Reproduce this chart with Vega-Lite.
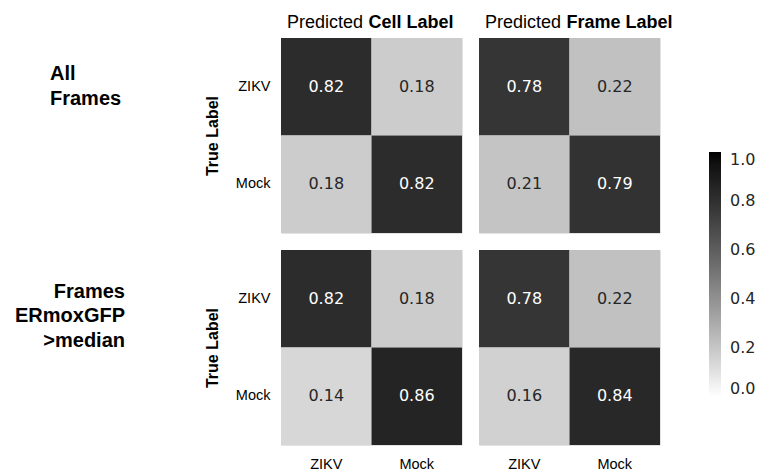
{
  "$schema": "https://vega.github.io/schema/vega-lite/v6.json",
  "padding": {"left": 0, "top": 12, "right": 0, "bottom": 0},
  "background": "white",
  "config": {
    "view": {"stroke": "#e3e3e3"},
    "font": "Liberation Sans",
    "axis": {"labelFont": "Liberation Sans", "titleFont": "Liberation Sans", "labelColor": "#000", "titleColor": "#000"}
  },
  "datasets": {
    "cm": [
      {"group": "all", "pred": "Cell", "truth": "ZIKV", "predicted": "ZIKV", "value": 0.82},
      {"group": "all", "pred": "Cell", "truth": "ZIKV", "predicted": "Mock", "value": 0.18},
      {"group": "all", "pred": "Cell", "truth": "Mock", "predicted": "ZIKV", "value": 0.18},
      {"group": "all", "pred": "Cell", "truth": "Mock", "predicted": "Mock", "value": 0.82},
      {"group": "all", "pred": "Frame", "truth": "ZIKV", "predicted": "ZIKV", "value": 0.78},
      {"group": "all", "pred": "Frame", "truth": "ZIKV", "predicted": "Mock", "value": 0.22},
      {"group": "all", "pred": "Frame", "truth": "Mock", "predicted": "ZIKV", "value": 0.21},
      {"group": "all", "pred": "Frame", "truth": "Mock", "predicted": "Mock", "value": 0.79},
      {"group": "high", "pred": "Cell", "truth": "ZIKV", "predicted": "ZIKV", "value": 0.82},
      {"group": "high", "pred": "Cell", "truth": "ZIKV", "predicted": "Mock", "value": 0.18},
      {"group": "high", "pred": "Cell", "truth": "Mock", "predicted": "ZIKV", "value": 0.14},
      {"group": "high", "pred": "Cell", "truth": "Mock", "predicted": "Mock", "value": 0.86},
      {"group": "high", "pred": "Frame", "truth": "ZIKV", "predicted": "ZIKV", "value": 0.78},
      {"group": "high", "pred": "Frame", "truth": "ZIKV", "predicted": "Mock", "value": 0.22},
      {"group": "high", "pred": "Frame", "truth": "Mock", "predicted": "ZIKV", "value": 0.16},
      {"group": "high", "pred": "Frame", "truth": "Mock", "predicted": "Mock", "value": 0.84}
    ],
    "rows": [
      {"group": "all", "label": "All\nFrames"},
      {"group": "high", "label": "Frames\nERmoxGFP\n>median"}
    ]
  },
  "vconcat": [
    {
      "spacing": 53,
      "hconcat": [
        {
          "width": 150, "height": 195,
          "view": {"stroke": null},
          "data": {"name": "rows"},
          "transform": [{"filter": "datum.group === 'all'"}],
          "mark": {"type": "text", "align": "left", "baseline": "middle", "lineBreak": "\n", "font": "Liberation Sans", "fontSize": 20, "fontWeight": "bold", "lineHeight": 25, "color": "#000", "dx": -25, "dy": -62},
          "encoding": {"text": {"field": "label", "type": "nominal"}}
        },
        {
          "spacing": 15,
          "hconcat": [
            {
              "width": 181, "height": 195,
              "data": {"name": "cm"},
              "transform": [{"filter": "datum.group === 'all' && datum.pred === 'Cell'"}],
              "title": {"text": "Predicted", "anchor": "start", "frame": "group", "dx": 6, "dy": 33, "offset": 0, "baseline": "alphabetic", "fontSize": 18, "fontWeight": "normal", "font": "Liberation Sans", "color": "#000"},
              "encoding": {
                "x": {"field": "predicted", "type": "nominal", "sort": ["ZIKV", "Mock"], "scale": {"paddingInner": 0, "paddingOuter": 0},
                  "axis": {"orient": "top", "labels": false, "ticks": false, "domain": false, "title": "Cell Label", "titleFontWeight": "bold", "titleFontSize": 18, "titleX": 87, "titleY": -11, "titleAlign": "left", "titleBaseline": "alphabetic", "titleAnchor": "start"}},
                "y": {"field": "truth", "type": "nominal", "sort": ["ZIKV", "Mock"], "scale": {"paddingInner": 0, "paddingOuter": 0},
                  "axis": {"labelAngle": 0, "labelFontSize": 14.5, "labelPadding": 11, "ticks": false, "domain": false, "title": "True Label", "titleFontWeight": "bold", "titleFontSize": 16, "titlePadding": 15}}
              },
              "layer": [
                {"mark": {"type": "rect"}, "encoding": {"color": {"field": "value", "type": "quantitative", "scale": {"domain": [0, 1], "range": ["#ffffff", "#000000"]},
                  "legend": {"orient": "none", "legendX": 709, "legendY": 114, "title": null, "padding": 0, "direction": "vertical", "gradientLength": 245, "gradientThickness": 12, "gradientStrokeWidth": 0, "values": [0, 0.2, 0.4, 0.6, 0.8, 1], "format": ".1f", "labelFont": "DejaVu Sans", "labelFontSize": 16, "labelColor": "#262626", "labelOffset": 9}}}},
                {"mark": {"type": "text", "font": "DejaVu Sans", "fontSize": 16}, "encoding": {"text": {"field": "value", "type": "quantitative", "format": ".2f"}, "color": {"condition": {"test": "datum.value > 0.5", "value": "#ffffff"}, "value": "#262626"}}}
              ]
            },
            {
              "width": 181, "height": 195,
              "data": {"name": "cm"},
              "transform": [{"filter": "datum.group === 'all' && datum.pred === 'Frame'"}],
              "title": {"text": "Predicted", "anchor": "start", "frame": "group", "dx": 6, "dy": 33, "offset": 0, "baseline": "alphabetic", "fontSize": 18, "fontWeight": "normal", "font": "Liberation Sans", "color": "#000"},
              "encoding": {
                "x": {"field": "predicted", "type": "nominal", "sort": ["ZIKV", "Mock"], "scale": {"paddingInner": 0, "paddingOuter": 0},
                  "axis": {"orient": "top", "labels": false, "ticks": false, "domain": false, "title": "Frame Label", "titleFontWeight": "bold", "titleFontSize": 18, "titleX": 87, "titleY": -11, "titleAlign": "left", "titleBaseline": "alphabetic", "titleAnchor": "start"}},
                "y": {"field": "truth", "type": "nominal", "sort": ["ZIKV", "Mock"], "scale": {"paddingInner": 0, "paddingOuter": 0}, "axis": null}
              },
              "layer": [
                {"mark": {"type": "rect"}, "encoding": {"color": {"field": "value", "type": "quantitative", "scale": {"domain": [0, 1], "range": ["#ffffff", "#000000"]},
                  "legend": {"orient": "none", "legendX": 709, "legendY": 114, "title": null, "padding": 0, "direction": "vertical", "gradientLength": 245, "gradientThickness": 12, "gradientStrokeWidth": 0, "values": [0, 0.2, 0.4, 0.6, 0.8, 1], "format": ".1f", "labelFont": "DejaVu Sans", "labelFontSize": 16, "labelColor": "#262626", "labelOffset": 9}}}},
                {"mark": {"type": "text", "font": "DejaVu Sans", "fontSize": 16}, "encoding": {"text": {"field": "value", "type": "quantitative", "format": ".2f"}, "color": {"condition": {"test": "datum.value > 0.5", "value": "#ffffff"}, "value": "#262626"}}}
              ]
            }
          ]
        }
      ]
    },
    {
      "spacing": 53,
      "hconcat": [
        {
          "width": 150, "height": 195,
          "view": {"stroke": null},
          "data": {"name": "rows"},
          "transform": [{"filter": "datum.group === 'high'"}],
          "mark": {"type": "text", "align": "right", "baseline": "middle", "lineBreak": "\n", "font": "Liberation Sans", "fontSize": 20, "fontWeight": "bold", "lineHeight": 24.5, "color": "#000", "dx": 50, "dy": -56},
          "encoding": {"text": {"field": "label", "type": "nominal"}}
        },
        {
          "spacing": 15,
          "hconcat": [
            {
              "width": 181, "height": 195,
              "data": {"name": "cm"},
              "transform": [{"filter": "datum.group === 'high' && datum.pred === 'Cell'"}],
              "encoding": {
                "x": {"field": "predicted", "type": "nominal", "sort": ["ZIKV", "Mock"], "scale": {"paddingInner": 0, "paddingOuter": 0},
                  "axis": {"orient": "bottom", "labelAngle": 0, "labelFontSize": 14.5, "labelPadding": 12, "ticks": false, "domain": false, "title": null}},
                "y": {"field": "truth", "type": "nominal", "sort": ["ZIKV", "Mock"], "scale": {"paddingInner": 0, "paddingOuter": 0},
                  "axis": {"labelAngle": 0, "labelFontSize": 14.5, "labelPadding": 11, "ticks": false, "domain": false, "title": "True Label", "titleFontWeight": "bold", "titleFontSize": 16, "titlePadding": 15}}
              },
              "layer": [
                {"mark": {"type": "rect"}, "encoding": {"color": {"field": "value", "type": "quantitative", "scale": {"domain": [0, 1], "range": ["#ffffff", "#000000"]},
                  "legend": {"orient": "none", "legendX": 709, "legendY": 114, "title": null, "padding": 0, "direction": "vertical", "gradientLength": 245, "gradientThickness": 12, "gradientStrokeWidth": 0, "values": [0, 0.2, 0.4, 0.6, 0.8, 1], "format": ".1f", "labelFont": "DejaVu Sans", "labelFontSize": 16, "labelColor": "#262626", "labelOffset": 9}}}},
                {"mark": {"type": "text", "font": "DejaVu Sans", "fontSize": 16}, "encoding": {"text": {"field": "value", "type": "quantitative", "format": ".2f"}, "color": {"condition": {"test": "datum.value > 0.5", "value": "#ffffff"}, "value": "#262626"}}}
              ]
            },
            {
              "width": 181, "height": 195,
              "data": {"name": "cm"},
              "transform": [{"filter": "datum.group === 'high' && datum.pred === 'Frame'"}],
              "encoding": {
                "x": {"field": "predicted", "type": "nominal", "sort": ["ZIKV", "Mock"], "scale": {"paddingInner": 0, "paddingOuter": 0},
                  "axis": {"orient": "bottom", "labelAngle": 0, "labelFontSize": 14.5, "labelPadding": 12, "ticks": false, "domain": false, "title": null}},
                "y": {"field": "truth", "type": "nominal", "sort": ["ZIKV", "Mock"], "scale": {"paddingInner": 0, "paddingOuter": 0}, "axis": null}
              },
              "layer": [
                {"mark": {"type": "rect"}, "encoding": {"color": {"field": "value", "type": "quantitative", "scale": {"domain": [0, 1], "range": ["#ffffff", "#000000"]},
                  "legend": {"orient": "none", "legendX": 709, "legendY": 114, "title": null, "padding": 0, "direction": "vertical", "gradientLength": 245, "gradientThickness": 12, "gradientStrokeWidth": 0, "values": [0, 0.2, 0.4, 0.6, 0.8, 1], "format": ".1f", "labelFont": "DejaVu Sans", "labelFontSize": 16, "labelColor": "#262626", "labelOffset": 9}}}},
                {"mark": {"type": "text", "font": "DejaVu Sans", "fontSize": 16}, "encoding": {"text": {"field": "value", "type": "quantitative", "format": ".2f"}, "color": {"condition": {"test": "datum.value > 0.5", "value": "#ffffff"}, "value": "#262626"}}}
              ]
            }
          ]
        }
      ]
    }
  ],
  "spacing": 15
}
